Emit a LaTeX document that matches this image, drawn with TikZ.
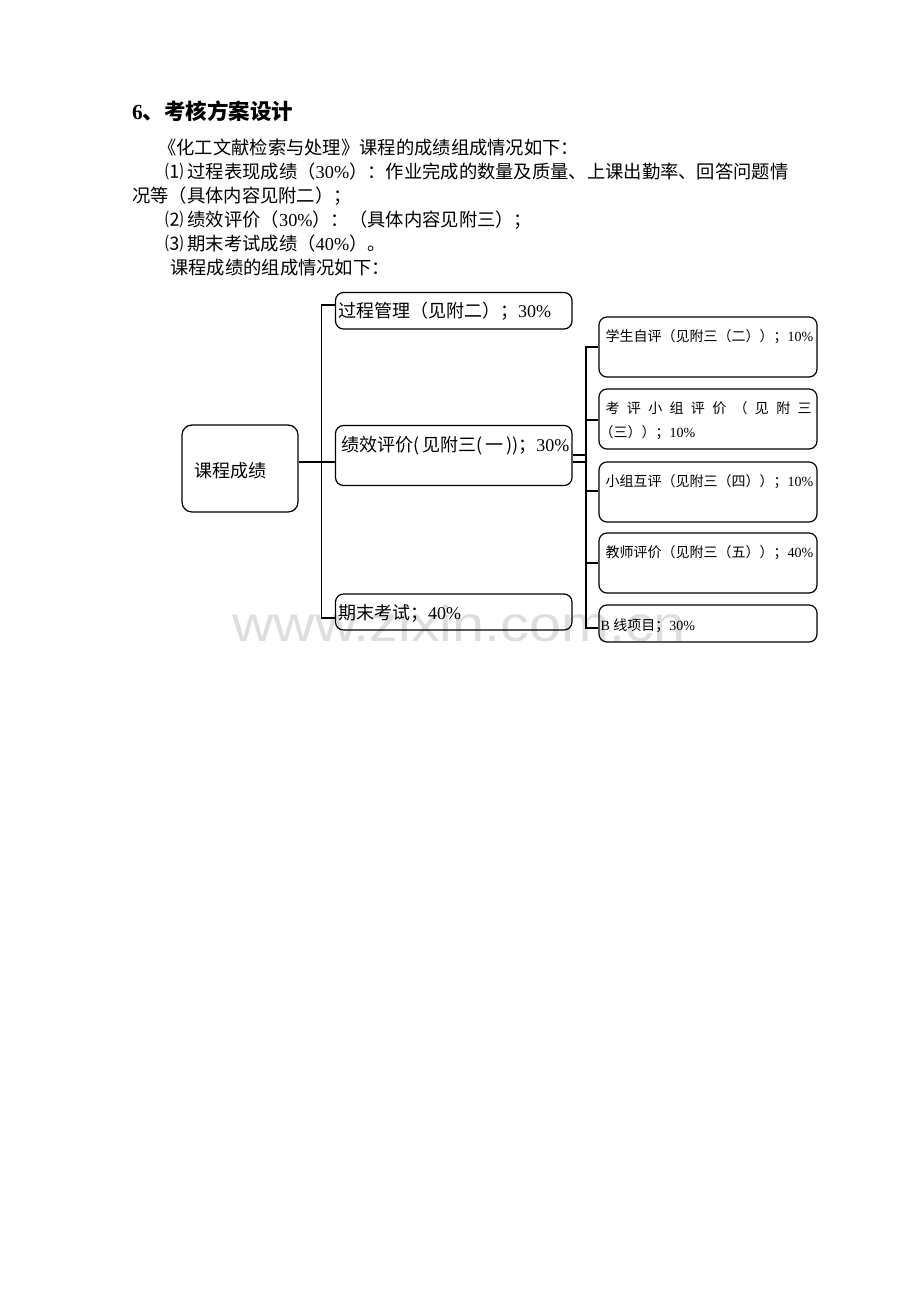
\documentclass[tikz,border=0pt]{standalone}
\usepackage{fontspec}
\setmainfont{Liberation Serif}
\newfontfamily\cjk{Noto Sans CJK SC}
\newfontfamily\wmfont{Liberation Sans}
\newcommand\zh[1]{{\cjk #1}}
\usetikzlibrary{calc}
\definecolor{wmgray}{RGB}{222,222,222}
\tikzset{
  bx/.style={draw, line width=1.2pt, rounded corners=8pt, inner sep=0pt, minimum width=236.5pt},
  rbx/.style={draw, line width=1.2pt, rounded corners=8pt, inner sep=0pt, minimum width=218pt},
  body/.style={anchor=base west, inner sep=0pt, font=\fontsize{18.3}{24}\selectfont},
  lt/.style={anchor=base west, inner sep=0pt, font=\fontsize{18}{24}\selectfont},
  rt/.style={anchor=base west, inner sep=0pt, font=\fontsize{14}{18}\selectfont},
  conn/.style={line width=1.2pt},
  wm/.style={inner sep=0pt, text=wmgray, font=\fontsize{50}{50}\wmfont, xscale=1.15}
}
\begin{document}
\begin{tikzpicture}[x=1pt,y=-1pt]
\useasboundingbox (0,0) rectangle (920,1302);
\fill[white] (0,0) rectangle (920,1302);
% watermark
\node[wm, anchor=base west] (wmk) at (232,641) {www.zixin.com.cn};
% heading and paragraph
\node[anchor=base west, inner sep=0pt, font=\fontsize{21.5}{24}\selectfont\bfseries] (title) at (132,119) {6\zh{、考核方案设计}};
\node[body] (l1) at (158,154) {\zh{《化工文献检索与处理》课程的成绩组成情况如下：}};
\node[body] (l2) at (165,178) {\zh{⑴ 过程表现成绩（}30\%\zh{）：作业完成的数量及质量、上课出勤率、回答问题情}};
\node[body] (l3) at (132,202) {\zh{况等（具体内容见附二）；}};
\node[body] (l4) at (165,226) {\zh{⑵ 绩效评价（}30\%\zh{）：（具体内容见附三）；}};
\node[body] (l5) at (165,250) {\zh{⑶ 期末考试成绩（}40\%\zh{）。}};
\node[body] (l6) at (170,274) {\zh{课程成绩的组成情况如下：}};
% left boxes
\node[draw, line width=1.2pt, rounded corners=10pt, inner sep=0pt, minimum width=116pt, minimum height=87pt] (root) at (240,468.5) {};
\node[lt] (roott) at (194,477) {\zh{课程成绩}};
\node[bx, minimum height=36.5pt] (pm) at (453.75,310.75) {};
\node[lt] (pmt) at ($(pm.north west)+(3,26)$) {\zh{过程管理（见附二）；}30\%};
\node[bx, minimum height=60pt] (jx) at (453.75,455.5) {};
\node[lt] (jxt) at ($(jx.north west)+(6,27)$) {\zh{绩效评价(}\,\zh{见附三(}\,\zh{一}\,\zh{)}\zh{)；}30\%};
\node[bx, minimum height=36pt] (qm) at (453.75,612) {};
\node[lt] (qmt) at ($(qm.north west)+(3,26)$) {\zh{期末考试；}40\%};
% right boxes
\node[rbx, minimum height=60pt] (r1) at (708,347) {};
\node[rt] (r1t) at ($(r1.north west)+(7,25)$) {\zh{学生自评（见附三（二））；}10\%};
\node[rbx, minimum height=60pt] (r2) at (708,419) {};
\node[rt] (r2t) at ($(r2.north west)+(7,25)$) {\makebox[206pt][s]{\zh{考}\hfill\zh{评}\hfill\zh{小}\hfill\zh{组}\hfill\zh{评}\hfill\zh{价}\hfill\zh{（}\hfill\zh{见}\hfill\zh{附}\hfill\zh{三}}};
\node[rt] (r2u) at ($(r2.north west)+(1,49)$) {\zh{（三））；}10\%};
\node[rbx, minimum height=60pt] (r3) at (708,492) {};
\node[rt] (r3t) at ($(r3.north west)+(7,25)$) {\zh{小组互评（见附三（四））；}10\%};
\node[rbx, minimum height=60pt] (r4) at (708,563) {};
\node[rt] (r4t) at ($(r4.north west)+(7,25)$) {\zh{教师评价（见附三（五））；}40\%};
\node[rbx, minimum height=37pt] (r5) at (708,623.5) {};
\node[rt] (r5t) at ($(r5.north west)+(2,26)$) {B \zh{线项目；}30\%};
% left connectors
\coordinate (ta) at (321.5,305);
\coordinate (tb) at (321.5,618);
\coordinate (tm) at (321.5,462);
\draw[conn] (ta -| pm.west) -- (ta) -- (tb) -- (tb -| qm.west);
\draw[conn] (tm -| root.east) -- (tm -| jx.west);
% right connectors
\coordinate (ra) at (586,347);
\coordinate (rb) at (586,420);
\coordinate (rc) at (586,491);
\coordinate (rd) at (586,563);
\coordinate (re) at (586,628);
\coordinate (rj1) at (586,455);
\coordinate (rj2) at (586,462);
\draw[conn] (ra -| r1.west) -- (ra) -- (re) -- (re -| r5.west);
\draw[conn] (rb) -- (rb -| r2.west);
\draw[conn] (rc) -- (rc -| r3.west);
\draw[conn] (rd) -- (rd -| r4.west);
\draw[conn] (rj1 -| jx.east) -- (rj1);
\draw[conn] (rj2 -| jx.east) -- (rj2);
\end{tikzpicture}
\end{document}
